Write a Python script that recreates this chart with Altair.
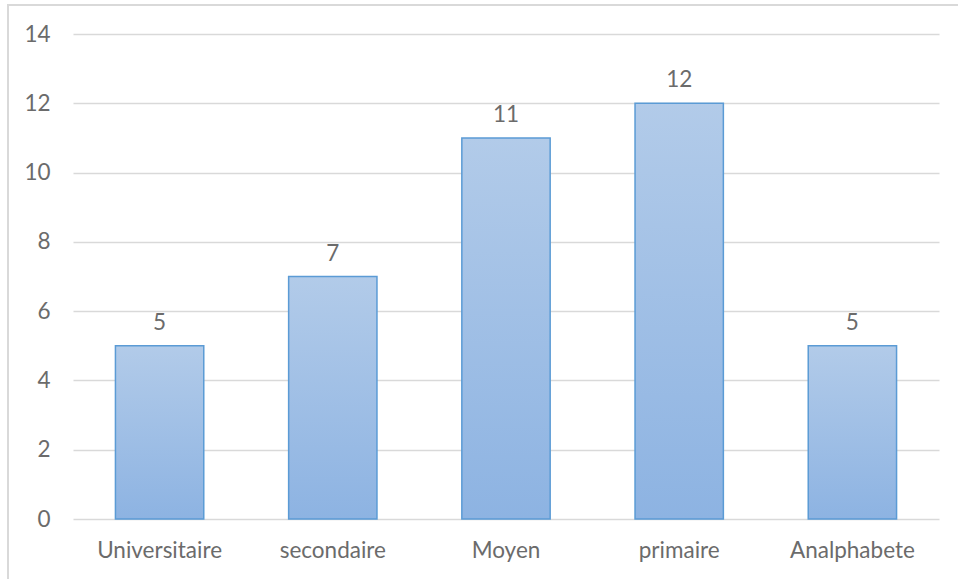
import altair as alt
import pandas as pd

# Education level counts
levels = ["Universitaire", "secondaire", "Moyen", "primaire", "Analphabete"]
counts = [5, 7, 11, 12, 5]

df = pd.DataFrame({"niveau": levels, "effectif": counts})

FONT = "Lato"
GREY = "#6b6b6b"
FS = 22.5

x_enc = alt.X(
    "niveau:N",
    sort=levels,
    title=None,
    scale=alt.Scale(paddingInner=0.49, paddingOuter=0.245),
    axis=alt.Axis(
        labelAngle=0, labelFont=FONT, labelFontSize=FS, labelColor=GREY,
        labelPadding=20, ticks=False, domain=False, grid=False,
    ),
)
y_enc = alt.Y(
    "effectif:Q",
    title=None,
    scale=alt.Scale(domain=[0, 14], nice=False),
    axis=alt.Axis(
        values=list(range(0, 15, 2)), labelFont=FONT, labelFontSize=FS,
        labelColor=GREY, labelPadding=23, ticks=False, domain=False,
        grid=True, gridColor="#d9d9d9", gridWidth=1.5,
    ),
)

bar_fill = alt.Gradient(
    gradient="linear",
    stops=[
        alt.GradientStop(color="#b2cbe9", offset=0),
        alt.GradientStop(color="#8db3e2", offset=1),
    ],
    x1=0, x2=0, y1=0, y2=1,
)

bars = alt.Chart(df).mark_bar(
    color=bar_fill, stroke="#5b9bd5", strokeWidth=1.5
).encode(x=x_enc, y=y_enc)

labels = alt.Chart(df).mark_text(
    baseline="alphabetic", dy=-16, font=FONT, fontSize=FS, color=GREY
).encode(x=alt.X("niveau:N", sort=levels), y="effectif:Q", text="effectif:Q")

# outer frame around the chart
frame = alt.Chart(df).mark_rect(
    fill=None, stroke="#d9d9d9", strokeWidth=1.5
).encode(
    x=alt.value(-65), x2=alt.value(940),
    y=alt.value(-29), y2=alt.value(600),
)

chart = alt.layer(frame, bars, labels).properties(
    width=866, height=485,
    autosize=alt.AutoSizeParams(type="none"),
    padding={"left": 73, "top": 34, "right": 19, "bottom": 60},
    background="white",
).configure_view(stroke=None)

chart.save("out.html", embed_options={"renderer": "svg", "actions": False})
